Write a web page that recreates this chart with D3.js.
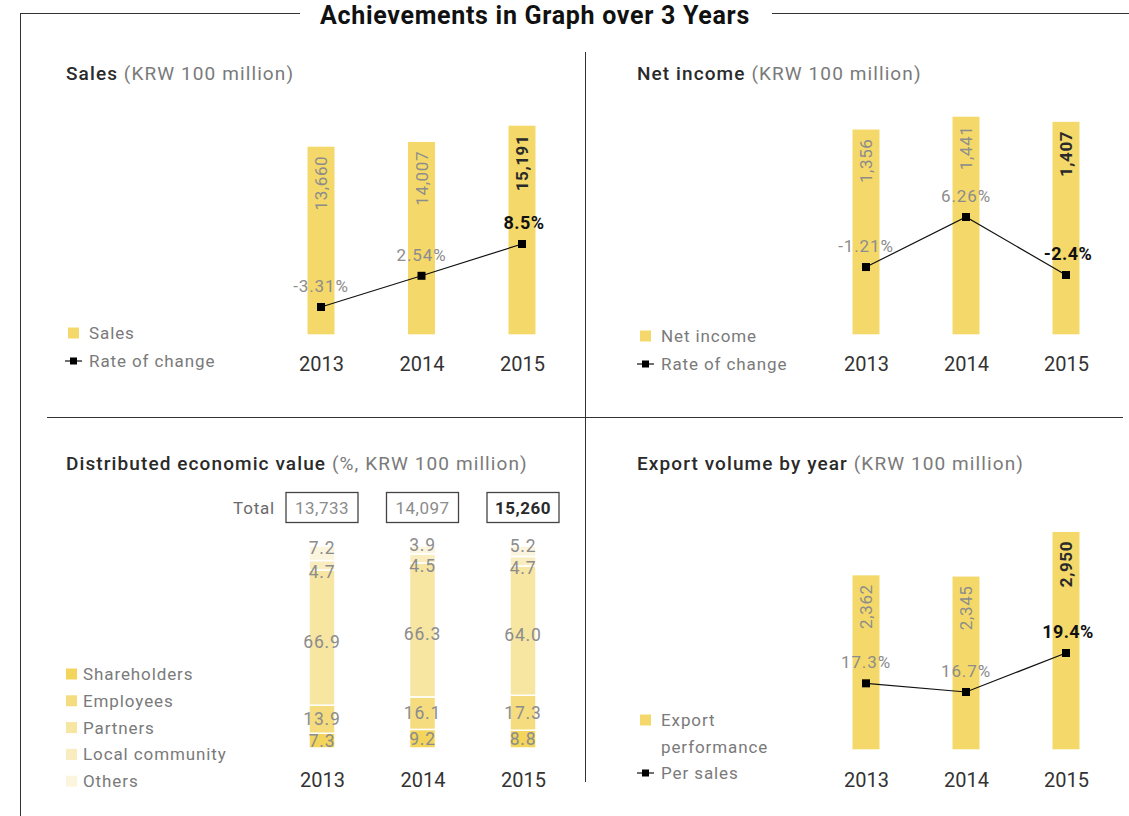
<!DOCTYPE html>
<html><head><meta charset="utf-8">
<script src="https://cdn.jsdelivr.net/npm/d3@7"></script>
<style>
html,body{margin:0;padding:0;background:#fff;}
svg{display:block;font-family:Roboto,"Noto Sans",sans-serif;}
</style></head>
<body>
<svg id="c" width="1129" height="816"></svg>
<script>
const years = ["2013","2014","2015"];
const salesValues = [13660, 14007, 15191];
const salesChange = [-3.31, 2.54, 8.5];
const salesChangeLabels = ["-3.31%","2.54%","8.5%"];
const netIncomeValues = [1356, 1441, 1407];
const netIncomeChange = [-1.21, 6.26, -2.4];
const netIncomeChangeLabels = ["-1.21%","6.26%","-2.4%"];
const exportValues = [2362, 2345, 2950];
const exportPerSales = [17.3, 16.7, 19.4];
const exportPerSalesLabels = ["17.3%","16.7%","19.4%"];
const distKeys = ["Shareholders","Employees","Partners","Local community","Others"];
const distShareholders = [7.3, 9.2, 8.8];
const distEmployees = [13.9, 16.1, 17.3];
const distPartners = [66.9, 66.3, 64.0];
const distLocal = [4.7, 4.5, 4.7];
const distOthers = [7.2, 3.9, 5.2];
const distTotals = [13733, 14097, 15260];

const fmt = d3.format(",");
const svg = d3.select("#c");
const BAR = "#f4d96a";
const distColors = ["#f3d55c","#f5dc7f","#f7e5a2","#f9ecbe","#fcf5de"];
const GRAY = "#8c8c8c", LEG = "#7a7a7a", YEAR = "#333";

// frame
const frame = svg.append("g").attr("stroke","#333").attr("stroke-width",1).attr("fill","none");
frame.append("line").attr("x1",20).attr("x2",300).attr("y1",13.5).attr("y2",13.5);
frame.append("line").attr("x1",772).attr("x2",1129).attr("y1",13.5).attr("y2",13.5);
frame.append("line").attr("x1",20.5).attr("x2",20.5).attr("y1",13).attr("y2",816);
frame.append("line").attr("x1",585.5).attr("x2",585.5).attr("y1",52).attr("y2",782);
frame.append("line").attr("x1",47).attr("x2",1123).attr("y1",417.5).attr("y2",417.5);

svg.append("text").attr("x",535).attr("y",24).attr("text-anchor","middle")
  .attr("font-size",25).attr("font-weight",700).attr("fill","#111").attr("letter-spacing",0.7)
  .text("Achievements in Graph over 3 Years");

function title(x,y,bold,rest){
  const t = svg.append("text").attr("x",x).attr("y",y).attr("font-size",19).attr("letter-spacing",1.1);
  t.append("tspan").attr("font-weight",500).attr("fill","#2a2a2a").text(bold);
  t.append("tspan").attr("fill","#7a7a7a").text(" "+rest);
}
title(66,80,"Sales","(KRW 100 million)");
title(637,80,"Net income","(KRW 100 million)");
title(66,470,"Distributed economic value","(%, KRW 100 million)");
title(637,470,"Export volume by year","(KRW 100 million)");

function yearAxis(x, y){
  const ax = svg.append("g").attr("transform",`translate(0,${y})`)
    .call(d3.axisBottom(x).tickSize(0).tickPadding(0));
  ax.select(".domain").remove();
  ax.selectAll("text").attr("font-size",20).attr("fill",YEAR).attr("font-family","Roboto,sans-serif").attr("dy","0.35em");
}

function barLineChart(opt){
  const x = d3.scalePoint().domain(years).range(opt.xr);
  const y = d3.scaleLinear().domain([0,d3.max(opt.values)]).range(opt.yr);
  const yl = d3.scaleLinear().domain(d3.extent(opt.line)).range(opt.lr);
  const bw = 27;
  const g = svg.append("g");
  g.selectAll("rect.bar").data(opt.values).join("rect")
    .attr("x",(d,i)=>x(years[i])-bw/2).attr("width",bw)
    .attr("y",d=>y(d)).attr("height",d=>y(0)-y(d)).attr("fill",BAR);
  g.selectAll("text.v").data(opt.values).join("text")
    .attr("transform",(d,i)=>`translate(${x(years[i])},${y(d)+9}) rotate(-90)`)
    .attr("text-anchor","end").attr("dy","0.36em")
    .attr("font-size",17).attr("font-weight",(d,i)=>i===2?700:400)
    .attr("fill",(d,i)=>i===2?"#2a2a2a":GRAY).attr("letter-spacing",0.6)
    .text(d=>fmt(d));
  const line = d3.line().x((d,i)=>x(years[i])).y(d=>yl(d));
  g.append("path").datum(opt.line).attr("d",line).attr("fill","none").attr("stroke","#111").attr("stroke-width",1.2);
  g.selectAll("rect.m").data(opt.line).join("rect")
    .attr("x",(d,i)=>x(years[i])-4).attr("y",d=>yl(d)-4).attr("width",8).attr("height",8).attr("fill","#000");
  g.selectAll("text.p").data(opt.line).join("text")
    .attr("x",(d,i)=>x(years[i])+(i===2?2:0)).attr("y",d=>yl(d)-21).attr("dy","0.35em")
    .attr("text-anchor","middle")
    .attr("font-size",(d,i)=>i===2?18:17).attr("font-weight",(d,i)=>i===2?700:400)
    .attr("letter-spacing",(d,i)=>i===2?0.4:0.9)
    .attr("fill",(d,i)=>i===2?"#111":GRAY)
    .text((d,i)=>opt.labels[i]);
  yearAxis(x, opt.yearY);
}

barLineChart({xr:[321,522], yr:[334.3,125.7], lr:[307,244], values:salesValues, line:salesChange, labels:salesChangeLabels, yearY:364});
barLineChart({xr:[866,1066], yr:[334.3,116.7], lr:[275,217], values:netIncomeValues, line:netIncomeChange, labels:netIncomeChangeLabels, yearY:364});
barLineChart({xr:[866,1066], yr:[749.3,532], lr:[692,653], values:exportValues, line:exportPerSales, labels:exportPerSalesLabels, yearY:780});

// legends
function legText(x,y,text){
  svg.append("text").attr("x",x).attr("y",y).attr("dy","0.35em").attr("font-size",17)
    .attr("letter-spacing",0.9).attr("fill",LEG).text(text);
}
function legSquare(x,y,color,text,gap){
  svg.append("rect").attr("x",x).attr("y",y-5.5).attr("width",11).attr("height",11).attr("fill",color);
  legText(x+(gap||21),y,text);
}
function legLine(x,y,text){
  svg.append("line").attr("x1",x-2).attr("x2",x+15).attr("y1",y).attr("y2",y).attr("stroke","#111").attr("stroke-width",1.2);
  svg.append("rect").attr("x",x+3).attr("y",y-3.5).attr("width",7).attr("height",7).attr("fill","#000");
  legText(x+22,y,text);
}
legSquare(68,333,BAR,"Sales");
legLine(67,361,"Rate of change");
legSquare(640,336,BAR,"Net income");
legLine(639,364,"Rate of change");
legSquare(640,720,BAR,"Export");
legText(661,747,"performance");
legLine(639,773,"Per sales");

// distributed economic value (stacked)
(function(){
  const x = d3.scalePoint().domain(years).range([322,523]);
  const y = d3.scaleLinear().domain([0,100]).range([748,546]);
  const table = years.map((yr,i)=>({year:yr,
    "Shareholders":distShareholders[i],"Employees":distEmployees[i],"Partners":distPartners[i],
    "Local community":distLocal[i],"Others":distOthers[i]}));
  const series = d3.stack().keys(distKeys)(table);
  const color = d3.scaleOrdinal().domain(distKeys).range(distColors);
  const bw = 26;
  const g = svg.append("g");
  series.forEach((s,k)=>{
    g.selectAll(null).data(s).join("rect")
      .attr("x",d=>x(d.data.year)-bw/2).attr("width",bw)
      .attr("y",d=>y(d[1])).attr("height",d=>y(d[0])-y(d[1]))
      .attr("fill",color(s.key)).attr("stroke","#fff").attr("stroke-width",1.5);
  });
  series.forEach((s,k)=>{
    g.selectAll(null).data(s).join("text")
      .attr("x",d=>x(d.data.year)).attr("y",d=>{
        let c = (y(d[0])+y(d[1]))/2;
        if (s.key==="Others") c -= 5;
        if (s.key==="Local community") c += 7;
        if (s.key==="Partners") c += 4;
        return c;})
      .attr("dy","0.35em").attr("text-anchor","middle").attr("font-size",17.5).attr("letter-spacing",0.8).attr("fill",GRAY)
      .text(d=>(d[1]-d[0]).toFixed(1));
  });
  // totals
  svg.append("text").attr("x",275).attr("y",508).attr("dy","0.35em").attr("text-anchor","end")
    .attr("font-size",17).attr("letter-spacing",0.8).attr("fill","#6a6a6a").text("Total");
  distTotals.forEach((t,i)=>{
    const cx = x(years[i]);
    svg.append("rect").attr("x",cx-36).attr("y",492.5).attr("width",72).attr("height",30)
      .attr("fill","#fff").attr("stroke","#444").attr("stroke-width",1.3);
    svg.append("text").attr("x",cx).attr("y",508).attr("dy","0.35em").attr("text-anchor","middle")
      .attr("font-size",17).attr("letter-spacing",0.5).attr("font-weight",i===2?700:400).attr("fill",i===2?"#2a2a2a":GRAY).text(fmt(t));
  });
  yearAxis(x,780);
  distKeys.forEach((k,i)=>legSquare(66,674+i*26.8,color(k),k,17));
})();
</script>
</body></html>
